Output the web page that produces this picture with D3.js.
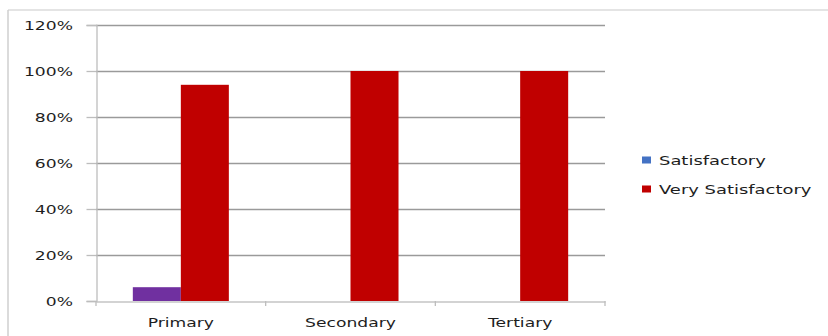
<!DOCTYPE html>
<html>
<head>
<meta charset="utf-8">
<script src="https://cdn.jsdelivr.net/npm/d3@7"></script>
<style>
  html, body { margin: 0; padding: 0; background: #fff; }
  svg { display: block; }
  text { font-family: "DejaVu Sans", Verdana, sans-serif; font-size: 13px; fill: #1e1e1e; }
</style>
</head>
<body>
<svg id="chart" width="828" height="336"></svg>
<script>
// Satisfaction level by school level
const categories = ["Primary", "Secondary", "Tertiary"];
const seriesNames = ["Satisfactory", "Very Satisfactory"];
const satisfactory = [0.06, 0, 0];
const verySatisfactory = [0.94, 1.00, 1.00];
const yTicks = [0, 0.2, 0.4, 0.6, 0.8, 1.0, 1.2];
const barColors = ["#7030A0", "#C00000"];
const legendColors = ["#4472C4", "#C00000"];

const svg = d3.select("#chart");
const W = 828, H = 336;
const plot = { left: 96, right: 605, top: 25, bottom: 301 };
const sx = 1.32;       // horizontal stretch of axis labels
const sxLegend = 1.38; // horizontal stretch of legend labels

// outer frame (top and left edges)
svg.append("line").attr("x1", 8).attr("x2", W).attr("y1", 10).attr("y2", 10)
  .attr("stroke", "#e4e4e4").attr("stroke-width", 2);
svg.append("line").attr("x1", 8).attr("x2", 8).attr("y1", 10).attr("y2", H)
  .attr("stroke", "#cfcfcf").attr("stroke-width", 1.5);

const y = d3.scaleLinear().domain([0, 1.2]).range([plot.bottom, plot.top]);
const x0 = d3.scaleBand().domain(categories).range([plot.left, plot.right]).paddingInner(0).paddingOuter(0);
const x1 = d3.scaleBand().domain(seriesNames).range([0, x0.bandwidth()]).paddingInner(0).paddingOuter(0.767);

// horizontal gridlines
svg.append("g").selectAll("line")
  .data(yTicks.filter(d => d > 0))
  .join("line")
  .attr("x1", plot.left).attr("x2", plot.right)
  .attr("y1", d => Math.round(y(d)) + 0.5).attr("y2", d => Math.round(y(d)) + 0.5)
  .attr("stroke", "#9a9a9a").attr("stroke-width", 1.4);

// stretched text helper
function label(sel, x, yy, txt, anchor, k = sx) {
  const g = sel.append("g").attr("transform", `translate(${x},${yy}) scale(${k},1)`);
  g.append("text").attr("text-anchor", anchor).text(txt);
  return g;
}

// y axis
const yAxis = d3.axisLeft(y).tickValues(yTicks).tickSize(10).tickFormat(d3.format(".0%"));
const gy = svg.append("g").attr("transform", `translate(${plot.left + 0.5},0)`).call(yAxis);
gy.select(".domain").attr("stroke", "#bdbdbd").attr("stroke-width", 1.3);
gy.selectAll(".tick line").attr("stroke", "#bdbdbd").attr("stroke-width", 1.3);
gy.selectAll(".tick text").remove();
yTicks.forEach(t => label(svg, 73, y(t) + 5, d3.format(".0%")(t), "end"));

// bars
const rows = categories.map((c, i) => ({ cat: c, vals: [satisfactory[i], verySatisfactory[i]] }));
const groups = svg.append("g").selectAll("g")
  .data(rows).join("g")
  .attr("transform", d => `translate(${x0(d.cat)},0)`);
groups.selectAll("rect")
  .data(d => d.vals.map((v, j) => ({ name: seriesNames[j], v, j })))
  .join("rect")
  .filter(d => d.v > 0)
  .attr("x", d => x1(d.name))
  .attr("width", x1.bandwidth())
  .attr("y", d => y(d.v))
  .attr("height", d => y(0) - y(d.v))
  .attr("fill", d => barColors[d.j]);

// x axis
const xAxis = d3.axisBottom(x0).tickSize(0).tickFormat("");
const gx = svg.append("g").attr("transform", `translate(0,${plot.bottom + 0.5})`).call(xAxis);
gx.select(".domain").attr("stroke", "#c4c4c4").attr("stroke-width", 1.3);
gx.selectAll(".tick").remove();
const bounds = categories.map(c => x0(c)).concat([plot.right]);
svg.append("g").selectAll("line").data(bounds).join("line")
  .attr("x1", d => d).attr("x2", d => d)
  .attr("y1", plot.bottom).attr("y2", plot.bottom + 5)
  .attr("stroke", "#bdbdbd").attr("stroke-width", 1.3);
categories.forEach(c => label(svg, x0(c) + x0.bandwidth() / 2, 327, c, "middle"));

// legend
const legend = svg.append("g");
seriesNames.forEach((n, i) => {
  const ly = 160 + i * 29;
  legend.append("rect").attr("x", 642).attr("y", ly - 3.5).attr("width", 9).attr("height", 7)
    .attr("fill", legendColors[i]);
  label(legend, 659, ly + 5, n, "start", sxLegend);
});
</script>
</body>
</html>
